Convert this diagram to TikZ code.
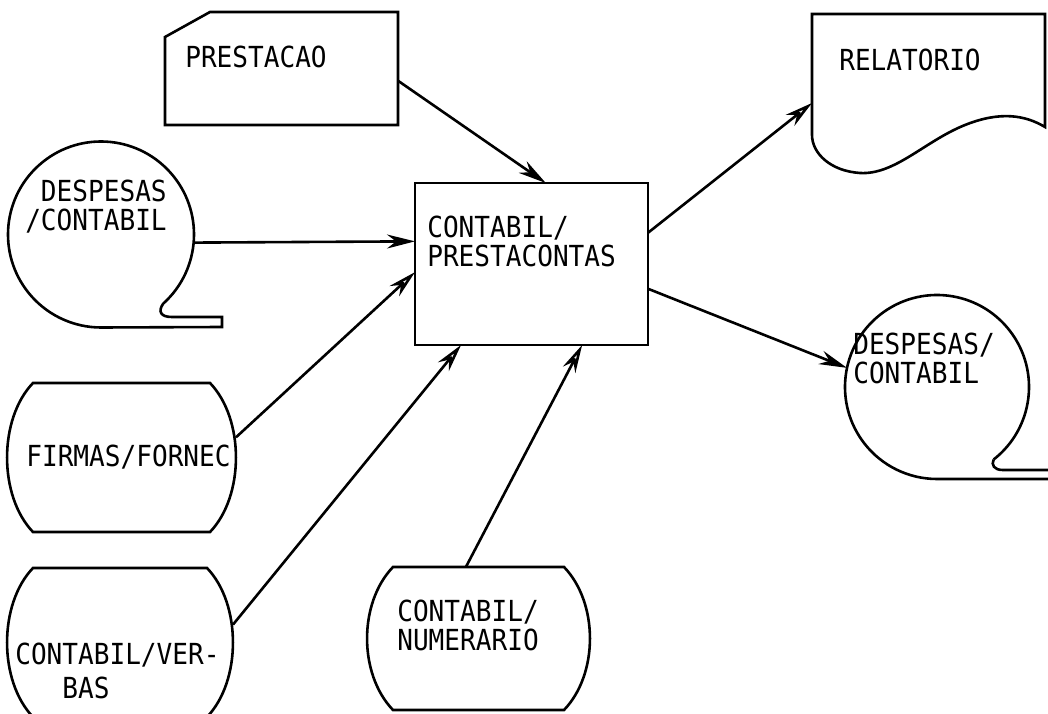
\documentclass[tikz,border=0pt]{standalone}
\usepackage{fontspec}
\setmonofont{DejaVu Sans Mono}[FakeStretch=0.9]
\usetikzlibrary{calc, arrows.meta}

\tikzset{
  flow/.style={line width=1.3pt, -{Stealth[length=14pt, width=7pt]}},
  flowopen/.style={line width=1.3pt, -{Stealth[open, length=14pt, width=7pt]}},
  txt/.style={inner sep=0pt, font=\ttfamily\fontsize{14.5}{14.5}\selectfont},
  holder/.style={inner sep=0pt, outer sep=0pt},
}

% contorno de disco (topo e base planos, lados curvos)
\newcommand{\discoborda}[1]{%
  \draw ([xshift=13pt]#1.north west) -- ([xshift=-13pt]#1.north east)
    .. controls ([xshift=4.3pt,yshift=-18pt]#1.north east) and ([xshift=4.3pt,yshift=18pt]#1.south east) .. ([xshift=-13pt]#1.south east)
    -- ([xshift=13pt]#1.south west)
    .. controls ([xshift=-4.3pt,yshift=18pt]#1.south west) and ([xshift=-4.3pt,yshift=-18pt]#1.north west) .. cycle;}

\begin{document}
\begin{tikzpicture}[x=0.5pt, y=0.5pt, line width=1.3pt]

    \useasboundingbox (0,0) rectangle (1048,713);

    % Processo central
    \node [draw, holder, minimum width=116.5pt, minimum height=81pt] (proc) at (531.5,449) {};
    \node [txt, align=left, anchor=north west] (procT) at (426,498) {CONTABIL/\\PRESTACONTAS};

    % Cartao de entrada
    \node [holder, minimum width=116.5pt, minimum height=56.5pt] (card) at (281.5,644.5) {};
    \draw ([yshift=-12.5pt]card.north west) -- ([xshift=22.5pt]card.north west)
    -- (card.north east) -- (card.south east) -- (card.south west) -- cycle;
    \node [txt, anchor=west] (cardT) at (184,656) {PRESTACAO};

    % Documento de saida
    \coordinate (rel) at (812,610);
    \draw (812,699) -- (1045,699) -- (1045,586)
    .. controls (1025,598) and (1000,602) .. (965,588)
    .. controls (925,572) and (895,538) .. (860,540)
    .. controls (830,542) and (812,560) .. (812,578) -- cycle;
    \node [txt] (relT) at (910,653) {RELATORIO};

    % Fitas
    \node [circle, holder, minimum size=93pt] (fitaA) at (101,478.5) {};
    \draw (fitaA.-48) arc [start angle=-48, end angle=270, radius=46.5pt]
    -- (222,386) -- (222,396) -- (172,396)
    .. controls (160,396) and (158,402) .. (fitaA.-48);
    \node [txt, align=right, anchor=north east] (fitaAT) at (168,534) {DESPESAS\\/CONTABIL};

    \node [circle, holder, minimum size=92pt] (fitaB) at (937,326) {};
    \draw (fitaB.-52) arc [start angle=-52, end angle=270, radius=46pt] -- (1052,234);
    \draw (1052,243) -- (1003,243) .. controls (994,243) and (991,248) .. (fitaB.-52);
    \node [txt, align=left, anchor=north west] (fitaBT) at (852,381) {DESPESAS/\\CONTABIL};

    % Discos
    \node [holder, minimum width=114.5pt, minimum height=74.5pt] (firmas) at (121.5,255.5) {};
    \discoborda{firmas}
    \node [txt] (firmasT) at (128.5,256) {FIRMAS/FORNEC};

    \node [holder, minimum width=113pt, minimum height=74.5pt] (verbas) at (120,70.5) {};
    \discoborda{verbas}
    \node [txt, align=left, anchor=north west] (verbasT) at (14,71) {CONTABIL/VER-\\[2.5pt]\phantom{CON}BAS};

    \node [holder, minimum width=111.5pt, minimum height=71.5pt] (numer) at (478.5,74.5) {};
    \discoborda{numer}
    \node [txt, align=left, anchor=north west] (numerT) at (396,114) {CONTABIL/\\NUMERARIO};

    % Fluxos
    \draw [flow] (card.-6) -- (proc.80);
    \draw [flow] (fitaA.-5) -- (proc.169);
    \draw [flowopen] (firmas.10) -- (proc.184);
    \draw [flowopen] (verbas.9) -- (proc.229);
    \draw [flowopen] (numer.100) -- (proc.302);
    \draw [flowopen] (proc.15) -- (rel);
    \draw [flow] (proc.348) -- (fitaB.168);

\end{tikzpicture}
\end{document}
